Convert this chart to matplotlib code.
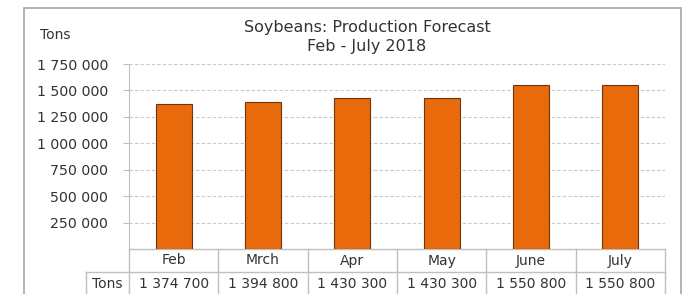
import matplotlib.pyplot as plt
import matplotlib.transforms as mtransforms
from matplotlib.patches import Rectangle
import numpy as np

months = ['Feb', 'Mrch', 'Apr', 'May', 'June', 'July']
tons = [1374700, 1394800, 1430300, 1430300, 1550800, 1550800]
yticks = [250000, 500000, 750000, 1000000, 1250000, 1500000, 1750000]


def fmt(v):
    return f'{v:,}'.replace(',', ' ')


txt_color = '#333333'
line_color = '#BFBFBF'

W, H = 688, 294
fig = plt.figure(figsize=(W / 100, H / 100), dpi=100)
plt.rcParams['font.family'] = ['DejaVu Sans']

# outer frame
fig.patches.append(Rectangle((24 / W, -0.1), (681 - 24) / W, 1.1 - 8 / H,
                             transform=fig.transFigure, fill=False,
                             edgecolor='#A6A6A6', linewidth=1.2))

left, right, top, bottom = 129, 665, 64, 249
ax = fig.add_axes([left / W, 1 - bottom / H, (right - left) / W, (bottom - top) / H])

x = np.arange(len(months))
ax.bar(x, tons, width=0.4, color='#E96A0B', edgecolor='#6E3510', linewidth=0.8, zorder=3)

ax.set_xlim(-0.5, len(months) - 0.5)
ax.set_ylim(0, 1750000)
ax.set_yticks(yticks)
ax.set_yticklabels([fmt(v) for v in yticks], fontsize=10.2, color=txt_color)
ax.set_xticks([])
ax.tick_params(axis='y', length=4, color=line_color, pad=11)
ax.grid(True, axis='y', color='#C8C8C8', linestyle=(0, (3, 2)), linewidth=0.8, zorder=0)
for s in ['top', 'right', 'bottom']:
    ax.spines[s].set_visible(False)
ax.spines['left'].set_color(line_color)

# data table below the axis
trans = mtransforms.blended_transform_factory(ax.transData, ax.transAxes)
row_h = 23 / (bottom - top)
ax.plot([-0.5, len(months) - 0.5], [0, 0], color=line_color, lw=1, transform=trans, clip_on=False)
lbl_left = -0.5 - 43 / ((right - left) / len(months))
ax.plot([lbl_left, len(months) - 0.5], [-row_h, -row_h], color=line_color, lw=1,
        transform=trans, clip_on=False)
ax.plot([lbl_left, lbl_left], [-row_h, -2.2 * row_h], color=line_color, lw=1,
        transform=trans, clip_on=False)
for k in range(len(months) + 1):
    ax.plot([k - 0.5, k - 0.5], [0, -2.2 * row_h], color=line_color, lw=1,
            transform=trans, clip_on=False)
for i, (m, v) in enumerate(zip(months, tons)):
    ax.text(i, -0.5 * row_h, m, ha='center', va='center', fontsize=10,
            color=txt_color, transform=trans, clip_on=False)
    ax.text(i, -1.5 * row_h, fmt(v), ha='center', va='center', fontsize=10,
            color=txt_color, transform=trans, clip_on=False)
ax.text((lbl_left - 0.5) / 2, -1.5 * row_h, 'Tons', ha='center', va='center', fontsize=10,
        color=txt_color, transform=trans, clip_on=False)

fig.text(40 / W, 1 - 35 / H, 'Tons', ha='left', va='center', fontsize=10, color=txt_color)
fig.text(367 / W, 1 - 37 / H, 'Soybeans: Production Forecast\nFeb - July 2018',
         ha='center', va='center', fontsize=11.5, color=txt_color, linespacing=1.3)

fig.savefig('out.png', dpi=100)
